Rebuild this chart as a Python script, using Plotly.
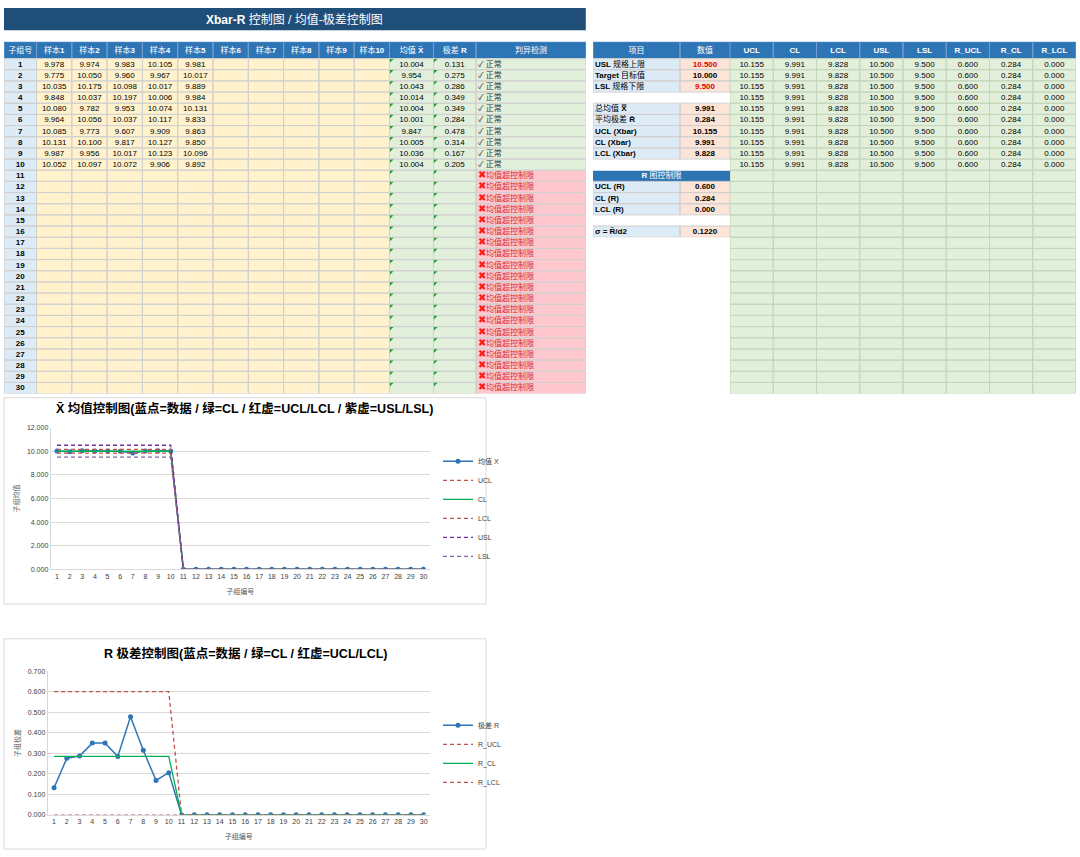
import plotly.graph_objects as go

W, H = 1080, 857
ROW_H = 11.26
HEAD_H = 17
TOP = 38
FONT = "Liberation Sans, Noto Sans CJK SC, sans-serif"

# ---- data read from the sheet ----
groups = [str(i) for i in range(1, 31)]
sample_cols = ["样本1", "样本2", "样本3", "样本4", "样本5",
               "样本6", "样本7", "样本8", "样本9", "样本10"]
samples = [
    [9.978, 9.974, 9.983, 10.105, 9.981],
    [9.775, 10.050, 9.960, 9.967, 10.017],
    [10.035, 10.175, 10.098, 10.017, 9.889],
    [9.848, 10.037, 10.197, 10.006, 9.984],
    [10.080, 9.782, 9.953, 10.074, 10.131],
    [9.964, 10.056, 10.037, 10.117, 9.833],
    [10.085, 9.773, 9.607, 9.909, 9.863],
    [10.131, 10.100, 9.817, 10.127, 9.850],
    [9.987, 9.956, 10.017, 10.123, 10.096],
    [10.052, 10.097, 10.072, 9.906, 9.892],
]
means = [10.004, 9.954, 10.043, 10.014, 10.004, 10.001, 9.847, 10.005, 10.036, 10.004]
ranges = [0.131, 0.275, 0.286, 0.349, 0.349, 0.284, 0.478, 0.314, 0.167, 0.205]
status_ok = "✓ 正常"
status_bad = "<span style='color:#ff1a1a;font-size:10px'>✖</span>均值超控制限"

param_labels = ["USL 规格上限", "Target 目标值", "LSL 规格下限", "",
                "总均值 X̿", "平均极差 R̄", "UCL (Xbar)", "CL (Xbar)", "LCL (Xbar)",
                "", "R 图控制限", "UCL (R)", "CL (R)", "LCL (R)", "", "σ = R̄/d2"]
param_values = ["10.500", "10.000", "9.500", "",
                "9.991", "0.284", "10.155", "9.991", "9.828",
                "", "", "0.600", "0.284", "0.000", "", "0.1220"]

limit_names = ["UCL", "CL", "LCL", "USL", "LSL", "R_UCL", "R_CL", "R_LCL"]
limit_values = [10.155, 9.991, 9.828, 10.500, 9.500, 0.600, 0.284, 0.000]

n = len(groups)
filled = len(means)

# cell fill palette (index used as heatmap z)
PALETTE = ["#ffffff", "#2e75b6", "#ddebf7", "#fff2cc", "#e2efda", "#ffc7ce", "#fce4d6"]
WHITE, HEAD, BLUE_L, YELLOW, GREEN_L, PINK, SALMON = range(len(PALETTE))
CSCALE = [[i / (len(PALETTE) - 1), c] for i, c in enumerate(PALETTE)]


def dom_y(top, bottom):
    return [1 - bottom / H, 1 - top / H]


def edges(sizes):
    e = [0.0]
    for s in sizes:
        e.append(e[-1] + s)
    return e


def bold_latin(s):
    # sheet font shows latin/digits bold, CJK glyphs regular
    out, run, latin = "", "", None
    for ch in s:
        is_l = ord(ch) < 0x2E80
        if latin is None or is_l == latin or ch == " ":
            run += ch
            latin = is_l if ch != " " or latin is None else latin
        else:
            out += ("<b>%s</b>" % run) if latin else run
            run, latin = ch, is_l
    if run:
        out += ("<b>%s</b>" % run) if latin else run
    return out


fig = go.Figure()
layout_axes = {}


def add_table(k, left, top, col_w, row_h, z, texts, tcolors, aligns,
              grid_rows, merged=()):
    """One sheet block drawn as a heatmap on its own axes; text and grid on top."""
    xe, ye = edges(col_w), edges(row_h)
    xa, ya = "x%d" % k, "y%d" % k
    fig.add_trace(go.Heatmap(x=xe, y=ye, z=z, colorscale=CSCALE, zmin=0,
                             zmax=len(PALETTE) - 1, showscale=False, hoverinfo="skip",
                             xaxis=xa, yaxis=ya))
    # grid lines: cell outlines for bordered rows
    for rows, color in grid_rows:
        gx, gy = [], []
        for r in rows:
            for c in range(len(col_w)):
                if r in merged:
                    x0, x1 = xe[0], xe[-1]
                else:
                    x0, x1 = xe[c], xe[c + 1]
                gx += [x0, x1, x1, x0, x0, None]
                gy += [ye[r], ye[r], ye[r + 1], ye[r + 1], ye[r], None]
        fig.add_trace(go.Scatter(x=gx, y=gy, mode="lines", hoverinfo="skip",
                                 line=dict(color=color, width=1), showlegend=False,
                                 xaxis=xa, yaxis=ya))
    tx, ty, tt, tc, tp = [], [], [], [], []
    for r, row in enumerate(texts):
        for c, t in enumerate(row):
            if not t:
                continue
            if r in merged:
                tx.append((xe[0] + xe[-1]) / 2); tp.append("middle center")
            elif aligns[c] == "left" and r > 0:
                tx.append(xe[c] + 2); tp.append("middle right")
            else:
                tx.append((xe[c] + xe[c + 1]) / 2); tp.append("middle center")
            ty.append((ye[r] + ye[r + 1]) / 2 + 0.5)
            tt.append(t)
            tc.append(tcolors[r][c])
    fig.add_trace(go.Scatter(x=tx, y=ty, text=tt, mode="text", textposition=tp,
                             textfont=dict(family=FONT, size=8, color=tc),
                             hoverinfo="skip", showlegend=False, xaxis=xa, yaxis=ya))
    tw, th = xe[-1], ye[-1]
    ax = dict(visible=False, fixedrange=True, showgrid=False, zeroline=False)
    layout_axes["xaxis%d" % k] = dict(ax, range=[0, tw], domain=[left / W, (left + tw) / W],
                                      anchor=ya)
    layout_axes["yaxis%d" % k] = dict(ax, range=[th, 0], domain=dom_y(top, top + th),
                                      anchor=xa)
    return xe, ye


# ---- left data table ----
left_w = [32.5] + [35.3] * 10 + [44, 42.5, 110]
left_h = [HEAD_H] + [ROW_H] * n
left_head = ["子组号"] + sample_cols + ["均值 X̄", "极差 R", "判异检测"]
left_texts = [[bold_latin(s) for s in left_head]]
left_z = [[HEAD] * len(left_w)]
left_tc = [["#ffffff"] * len(left_w)]
for i in range(n):
    row = ["<b>%s</b>" % groups[i]]
    for j in range(10):
        row.append("%.3f" % samples[i][j] if i < filled and j < 5 else "")
    row.append("%.3f" % means[i] if i < filled else "")
    row.append("%.3f" % ranges[i] if i < filled else "")
    row.append(status_ok if i < filled else status_bad)
    left_texts.append(row)
    left_z.append([BLUE_L] + [YELLOW] * 10 + [GREEN_L, GREEN_L] +
                  [GREEN_L if i < filled else PINK])
    left_tc.append(["#000000"] * 13 + ["#333333" if i < filled else "#d0303a"])
lxe, lye = add_table(3, 4, TOP, left_w, left_h, left_z, left_texts, left_tc,
                     ["center"] * 13 + ["left"],
                     [([0], "#6f9fd0"), (range(1, n + 1), "#d0d0d0")])

# "number stored as text" corner markers in the mean / range columns
tri_x, tri_y = [], []
for c in (11, 12):
    for r in range(1, n + 1):
        tri_x.append(lxe[c] + 1.6)
        tri_y.append(lye[r] + 1.6)
fig.add_trace(go.Scatter(x=tri_x, y=tri_y, mode="markers", hoverinfo="skip",
                         marker=dict(symbol="triangle-nw", size=4, color="#1f9e3a",
                                     line=dict(width=0)),
                         showlegend=False, xaxis="x3", yaxis="y3"))

# ---- parameter block ----
param_w = [87, 50]
param_h = [HEAD_H] + [ROW_H] * len(param_labels)
param_texts = [["项目", "数值"]]
param_z = [[HEAD, HEAD]]
param_tc = [["#ffffff", "#ffffff"]]
bordered = []
for i, (lab, val) in enumerate(zip(param_labels, param_values)):
    if lab == "R 图控制限":
        param_texts.append([bold_latin(lab), ""])
        param_z.append([HEAD, HEAD])
        param_tc.append(["#ffffff", "#ffffff"])
    elif lab:
        param_texts.append([bold_latin(lab), "<b>%s</b>" % val])
        param_z.append([BLUE_L, SALMON])
        param_tc.append(["#000000", "#e00000" if i in (0, 2) else "#000000"])
        bordered.append(i + 1)
    else:
        param_texts.append(["", ""])
        param_z.append([WHITE, WHITE])
        param_tc.append(["#000000", "#000000"])
add_table(4, 593, TOP, param_w, param_h, param_z, param_texts, param_tc,
          ["left", "center"], [([0], "#6f9fd0"), (bordered, "#d0d0d0")],
          merged=(11,))

# ---- limit columns block ----
lim_w = [43.25] * len(limit_names)
lim_h = [HEAD_H] + [ROW_H] * n
lim_texts = [["<b>%s</b>" % s for s in limit_names]]
lim_z = [[HEAD] * len(lim_w)]
lim_tc = [["#ffffff"] * len(lim_w)]
for i in range(n):
    lim_texts.append(["%.3f" % v if i < filled else "" for v in limit_values])
    lim_z.append([GREEN_L] * len(lim_w))
    lim_tc.append(["#000000"] * len(lim_w))
add_table(5, 730, TOP, lim_w, lim_h, lim_z, lim_texts, lim_tc, ["center"] * len(lim_w),
          [([0], "#6f9fd0"), (range(1, n + 1), "#c5d6bc")])


# ---- charts ----
def col_fill(vals):
    # empty rows of the sheet plot as 0 in the charts
    return list(vals) + [0.0] * (n - len(vals))


BLUE, RED, GREEN, PURPLE, PURPLE2 = "#2e75b6", "#c0504d", "#00b050", "#7030a0", "#8064a2"
DASH = "4px,3px"
x_series = [
    ("UCL", limit_values[0], RED, DASH),
    ("CL", limit_values[1], GREEN, "solid"),
    ("LCL", limit_values[2], RED, DASH),
    ("USL", limit_values[3], PURPLE, DASH),
    ("LSL", limit_values[4], PURPLE2, DASH),
]
fig.add_trace(go.Scatter(x=groups, y=col_fill(means), name="均值 X", mode="lines+markers",
                         line=dict(color=BLUE, width=1.5), marker=dict(size=5, color=BLUE),
                         xaxis="x", yaxis="y", legend="legend"))
for name, v, c, d in x_series:
    fig.add_trace(go.Scatter(x=groups, y=col_fill([v] * filled), name=name, mode="lines",
                             line=dict(color=c, width=1.3, dash=d),
                             xaxis="x", yaxis="y", legend="legend"))

r_series = [
    ("R_UCL", limit_values[5], RED, DASH),
    ("R_CL", limit_values[6], GREEN, "solid"),
    ("R_LCL", limit_values[7], RED, DASH),
]
fig.add_trace(go.Scatter(x=groups, y=col_fill(ranges), name="极差 R", mode="lines+markers",
                         line=dict(color=BLUE, width=1.5), marker=dict(size=5, color=BLUE),
                         xaxis="x2", yaxis="y2", legend="legend2"))
for name, v, c, d in r_series:
    fig.add_trace(go.Scatter(x=groups, y=col_fill([v] * filled), name=name, mode="lines",
                             line=dict(color=c, width=1.3, dash=d),
                             xaxis="x2", yaxis="y2", legend="legend2"))

tick_font = dict(family=FONT, size=7, color="#404040")
axis_title_font = dict(family="Noto Sans CJK SC", size=7, color="#595959")
xa = dict(type="category", range=[-0.5, 29.5], tickfont=tick_font, showgrid=False,
          showline=True, linecolor="#d9d9d9", ticks="", tickangle=0, fixedrange=True,
          title=dict(text="子组编号", font=axis_title_font, standoff=10))
ya = dict(tickformat=".3f", tickfont=tick_font, gridcolor="#d9d9d9", showline=True,
          linecolor="#d9d9d9", zeroline=False, ticks="", fixedrange=True)
legend_style = dict(xanchor="left", yanchor="middle", tracegroupgap=0, itemwidth=30,
                    font=dict(family=FONT, size=7, color="#404040"),
                    bgcolor="rgba(0,0,0,0)")
title_font = dict(family=FONT, size=12.5, color="#000000")

fig.update_layout(
    width=W, height=H, margin=dict(l=0, r=0, t=0, b=0),
    paper_bgcolor="white", plot_bgcolor="white",
    font=dict(family=FONT),
    xaxis=dict(xa, domain=[50.7 / W, 429.7 / W], anchor="y"),
    yaxis=dict(ya, domain=dom_y(427, 570), range=[0, 12], dtick=2, anchor="x",
               title=dict(text="子组均值", font=axis_title_font, standoff=6)),
    xaxis2=dict(xa, domain=[47.7 / W, 430 / W], anchor="y2"),
    yaxis2=dict(ya, domain=dom_y(672.7, 817.3), range=[0, 0.7], dtick=0.1, anchor="x2",
                title=dict(text="子组极差", font=axis_title_font, standoff=6)),
    legend=dict(legend_style, x=438 / W, y=1 - 509 / H),
    legend2=dict(legend_style, x=438 / W, y=1 - 756 / H),
    shapes=[
        dict(type="rect", xref="paper", yref="paper", x0=4 / W, x1=585.8 / W,
             y0=1 - 26.5 / H, y1=1 - 4 / H, fillcolor="#1f4e79", line=dict(width=0),
             layer="below"),
        dict(type="rect", xref="paper", yref="paper", x0=4 / W, x1=486 / W,
             y0=1 - 605 / H, y1=1 - 397 / H, line=dict(color="#d9d9d9", width=1),
             layer="below"),
        dict(type="rect", xref="paper", yref="paper", x0=4 / W, x1=486 / W,
             y0=1 - 852 / H, y1=1 - 640 / H, line=dict(color="#d9d9d9", width=1),
             layer="below"),
    ],
    annotations=[
        dict(text="<b>Xbar-R</b> 控制图 / 均值-极差控制图", xref="paper", yref="paper",
             x=294 / W, y=1 - 15.5 / H, xanchor="center", yanchor="middle",
             showarrow=False, font=dict(family=FONT, size=12, color="white")),
        dict(text="<b>X̄ 均值控制图(蓝点=数据 / 绿=CL / 红虚=UCL/LCL / 紫虚=USL/LSL)</b>",
             xref="paper", yref="paper", x=244 / W, y=1 - 408 / H, xanchor="center",
             yanchor="middle", showarrow=False, font=title_font),
        dict(text="<b>R 极差控制图(蓝点=数据 / 绿=CL / 红虚=UCL/LCL)</b>",
             xref="paper", yref="paper", x=245 / W, y=1 - 655 / H, xanchor="center",
             yanchor="middle", showarrow=False, font=title_font),
    ],
    **layout_axes,
)

fig.write_html("out.html", config={"displayModeBar": False},
               post_script="document.body.style.margin='0';")
